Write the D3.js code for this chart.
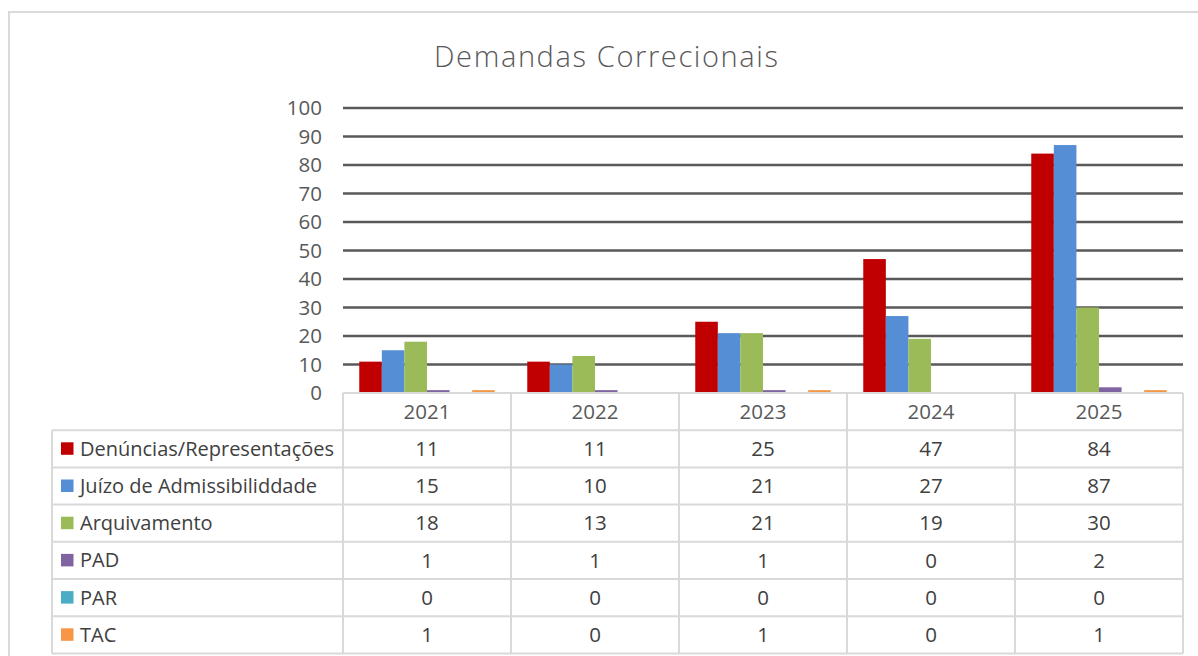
<!DOCTYPE html>
<html>
<head>
<meta charset="utf-8">
<script src="https://cdn.jsdelivr.net/npm/d3@7"></script>
<style>
  body { margin: 0; background: #fff; }
  svg { display: block; }
</style>
</head>
<body>
<div id="chart"></div>
<script>
var years = ["2021", "2022", "2023", "2024", "2025"];
var seriesNames = ["Denúncias/Representações", "Juízo de Admissibiliddade", "Arquivamento", "PAD", "PAR", "TAC"];
var seriesColors = ["#C00000", "#558ED5", "#9BBB59", "#8064A2", "#4BACC6", "#F79646"];
var denuncias = [11, 11, 25, 47, 84];
var juizo = [15, 10, 21, 27, 87];
var arquivamento = [18, 13, 21, 19, 30];
var pad = [1, 1, 1, 0, 2];
var par = [0, 0, 0, 0, 0];
var tac = [1, 0, 1, 0, 1];
var yTicks = [0, 10, 20, 30, 40, 50, 60, 70, 80, 90, 100];

var seriesValues = [denuncias, juizo, arquivamento, pad, par, tac];
var series = seriesNames.map(function (name, i) {
    return { name: name, color: seriesColors[i], values: seriesValues[i] };
});

var width = 1198, height = 656;
var font = "'Open Sans', 'Liberation Sans', sans-serif";
var plotLeft = 343, plotRight = 1183, plotTop = 108, plotBottom = 393;
var tableLeft = 52, rowH = 37.2;
var borderColor = "#D9D9D9";

var svg = d3.select("#chart").append("svg")
    .attr("width", width)
    .attr("height", height);

// outer chart border (runs off the page on the right and bottom)
svg.append("rect")
    .attr("x", 9).attr("y", 12)
    .attr("width", 1220).attr("height", 700)
    .attr("fill", "none")
    .attr("stroke", borderColor)
    .attr("stroke-width", 2);

svg.append("text")
    .attr("x", 606).attr("y", 67)
    .attr("text-anchor", "middle")
    .attr("fill", "#595959")
    .style("font-family", font)
    .style("font-size", "29px")
    .style("font-weight", 300)
    .attr("textLength", 344)
    .attr("lengthAdjust", "spacing")
    .text("Demandas Correcionais");

var x0 = d3.scaleBand().domain(years).range([plotLeft, plotRight]).padding(0);
var x1 = d3.scaleBand().domain(seriesNames).range([0, x0.bandwidth()])
    .paddingInner(0).paddingOuter(0.72);
var y = d3.scaleLinear().domain([0, 100]).range([plotBottom, plotTop]);

// gridlines
svg.append("g").selectAll("line")
    .data(yTicks.filter(function (t) { return t > 0; }))
    .enter().append("line")
    .attr("x1", plotLeft).attr("x2", plotRight)
    .attr("y1", function (d) { return y(d); })
    .attr("y2", function (d) { return y(d); })
    .attr("stroke", "#595959")
    .attr("stroke-width", 2.6);

// y axis labels
var yAxis = d3.axisLeft(y).tickValues(yTicks).tickSize(0).tickPadding(21);
var yg = svg.append("g")
    .attr("transform", "translate(" + plotLeft + ",0)")
    .call(yAxis);
yg.select(".domain").remove();
yg.selectAll("text")
    .attr("fill", "#595959")
    .style("font-family", font)
    .style("font-size", "20.5px");

// bars
var groups = svg.append("g").selectAll("g")
    .data(years)
    .enter().append("g")
    .attr("transform", function (d) { return "translate(" + x0(d) + ",0)"; });
groups.selectAll("rect")
    .data(function (d, i) {
        return series.map(function (s) { return { name: s.name, color: s.color, value: s.values[i] }; });
    })
    .enter().append("rect")
    .attr("x", function (d) { return x1(d.name); })
    .attr("width", x1.bandwidth())
    .attr("y", function (d) { return y(d.value); })
    .attr("height", function (d) { return plotBottom - y(d.value); })
    .attr("fill", function (d) { return d.color; });

// data table
var table = svg.append("g");
var tableBottom = plotBottom + rowH * (series.length + 1);
var lineStyle = function (sel) {
    return sel.attr("stroke", borderColor).attr("stroke-width", 2);
};
// header top line (axis)
table.append("line").call(lineStyle)
    .attr("x1", plotLeft).attr("x2", plotRight)
    .attr("y1", plotBottom).attr("y2", plotBottom);
// row lines
d3.range(1, series.length + 2).forEach(function (r) {
    table.append("line").call(lineStyle)
        .attr("x1", tableLeft).attr("x2", plotRight)
        .attr("y1", plotBottom + r * rowH).attr("y2", plotBottom + r * rowH);
});
// vertical lines
table.append("line").call(lineStyle)
    .attr("x1", tableLeft).attr("x2", tableLeft)
    .attr("y1", plotBottom + rowH).attr("y2", tableBottom);
years.concat(["end"]).forEach(function (yr) {
    var xv = yr === "end" ? plotRight : x0(yr);
    table.append("line").call(lineStyle)
        .attr("x1", xv).attr("x2", xv)
        .attr("y1", plotBottom).attr("y2", tableBottom);
});
// header labels
table.selectAll(".year")
    .data(years)
    .enter().append("text")
    .attr("class", "year")
    .attr("x", function (d) { return x0(d) + x0.bandwidth() / 2; })
    .attr("y", plotBottom + rowH / 2)
    .attr("dy", "0.35em")
    .attr("text-anchor", "middle")
    .attr("fill", "#595959")
    .style("font-family", font)
    .style("font-size", "20.5px")
    .text(function (d) { return d; });
// rows
var rows = table.selectAll(".row")
    .data(series)
    .enter().append("g")
    .attr("class", "row")
    .attr("transform", function (d, i) { return "translate(0," + (plotBottom + (i + 1) * rowH) + ")"; });
rows.append("rect")
    .attr("x", 61).attr("y", rowH / 2 - 6.5)
    .attr("width", 12.5).attr("height", 12.5)
    .attr("fill", function (d) { return d.color; });
rows.append("text")
    .attr("x", 80).attr("y", rowH / 2)
    .attr("dy", "0.35em")
    .attr("fill", "#404040")
    .style("font-family", font)
    .style("font-size", "20px")
    .text(function (d) { return d.name; });
rows.selectAll(".val")
    .data(function (d) { return d.values; })
    .enter().append("text")
    .attr("class", "val")
    .attr("x", function (d, i) { return x0(years[i]) + x0.bandwidth() / 2; })
    .attr("y", rowH / 2)
    .attr("dy", "0.35em")
    .attr("text-anchor", "middle")
    .attr("fill", "#404040")
    .style("font-family", font)
    .style("font-size", "20.5px")
    .text(function (d) { return d; });
</script>
</body>
</html>
